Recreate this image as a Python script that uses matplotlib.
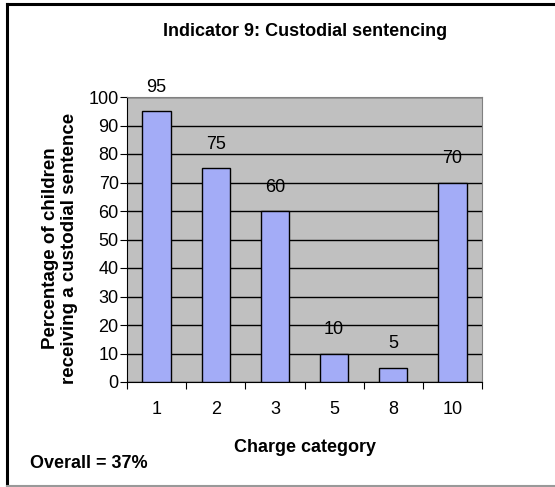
import matplotlib.pyplot as plt
from matplotlib.lines import Line2D

plt.rcParams['font.family'] = ['Liberation Sans', 'DejaVu Sans']

# Chart data
categories = ["1", "2", "3", "5", "8", "10"]
values = [95, 75, 60, 10, 5, 70]
yticks = [0, 10, 20, 30, 40, 50, 60, 70, 80, 90, 100]

W, H = 555, 487
fig = plt.figure(figsize=(W / 100, H / 100), dpi=100)

# outer chart border: black top/left, grey bottom
fig.lines.append(Line2D([7 / W, 1], [1 - 4 / H, 1 - 4 / H], transform=fig.transFigure,
                        color='black', linewidth=2.2))
fig.lines.append(Line2D([7 / W, 7 / W], [1 - 4 / H, 1 - 486 / H], transform=fig.transFigure,
                        color='black', linewidth=2.2))
fig.lines.append(Line2D([7 / W, 1], [1 - 486 / H, 1 - 486 / H], transform=fig.transFigure,
                        color='#999999', linewidth=1.5))

ax = fig.add_axes([127 / W, 1 - 382 / H, 355 / W, 285 / H])
ax.set_facecolor('#c0c0c0')

x = list(range(len(categories)))
ax.bar(x, values, width=0.48, color='#a3acf7', edgecolor='black',
       linewidth=1.0, zorder=3)

for xi, v in zip(x, values):
    ax.annotate(str(v), (xi, v), xytext=(0, 11), textcoords='offset points',
                ha='center', va='bottom', fontsize=13)

ax.set_xlim(-0.5, len(categories) - 0.5)
ax.set_ylim(0, 100)
ax.set_yticks(yticks)
ax.yaxis.grid(True, color='black', linewidth=1.0, zorder=1)
ax.set_axisbelow(True)

ax.set_xticks([i - 0.5 for i in range(len(categories) + 1)], minor=False)
ax.set_xticklabels([])
ax.set_xticks(x, minor=True)
ax.set_xticklabels(categories, minor=True, fontsize=13)
ax.tick_params(axis='x', which='minor', length=0, pad=14)
ax.tick_params(axis='x', which='major', length=5, direction='out')
ax.tick_params(axis='y', length=5, direction='out', labelsize=13, pad=1)

for s in ['top', 'right']:
    ax.spines[s].set_color('#808080')
for s in ['left', 'bottom']:
    ax.spines[s].set_color('black')

fig.text(305 / W, 1 - 32 / H, "Indicator 9: Custodial sentencing",
         ha='center', va='center', fontsize=13, fontweight='bold')
fig.text(60 / W, 1 - 248 / H, "Percentage of children\nreceiving a custodial sentence",
         ha='center', va='center', rotation=90, fontsize=13.5, fontweight='bold',
         linespacing=1.2)
fig.text(305 / W, 1 - 448 / H, "Charge category", ha='center', va='center',
         fontsize=13, fontweight='bold')
fig.text(30 / W, 1 - 463 / H, "Overall = 37%", ha='left', va='center',
         fontsize=13, fontweight='bold')

fig.savefig('out.png', dpi=100)
